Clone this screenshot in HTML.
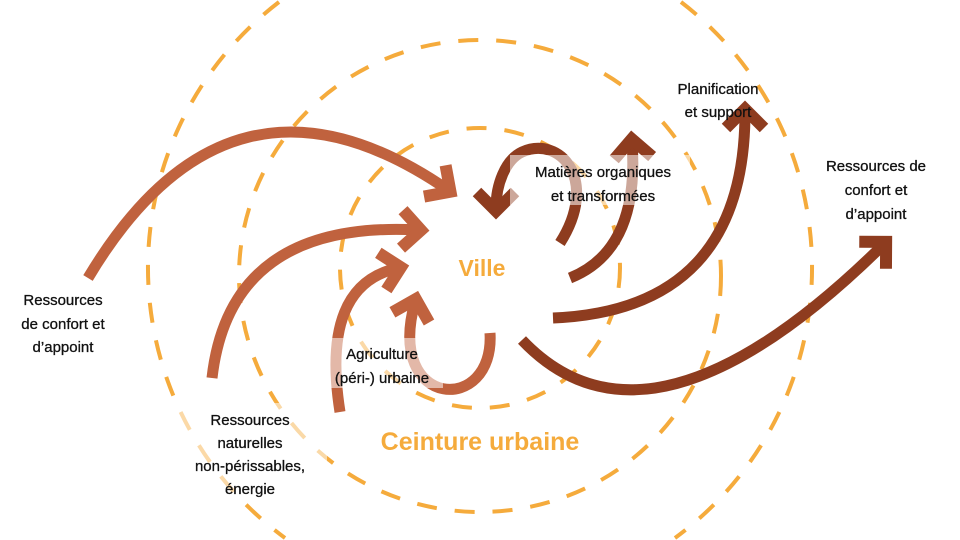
<!DOCTYPE html>
<html><head><meta charset="utf-8"><style>
html,body{margin:0;padding:0;background:#fff;overflow:hidden;width:960px;height:540px;}
svg{display:block;overflow:hidden;}
text{font-family:"Liberation Sans","DejaVu Sans",sans-serif;}
.l{font-size:15px;fill:#111;text-anchor:middle;stroke:#111;stroke-width:0.3;}
</style></head><body>
<svg width="960" height="540" viewBox="0 0 960 540" xmlns="http://www.w3.org/2000/svg">
<defs>
<marker id="ha" markerUnits="userSpaceOnUse" markerWidth="60" markerHeight="60" refX="0" refY="0" viewBox="-30 -30 60 60" orient="auto">
<path d="M-16,-19 L3,0 L-16,19" fill="none" stroke="#c0623e" stroke-width="12" stroke-linejoin="miter"/>
</marker>
<marker id="hb" markerUnits="userSpaceOnUse" markerWidth="60" markerHeight="60" refX="0" refY="0" viewBox="-30 -30 60 60" orient="auto">
<path d="M-16,-19 L3,0 L-16,19" fill="none" stroke="#8e3c1f" stroke-width="12" stroke-linejoin="miter"/>
</marker>
</defs>
<g fill="none" stroke="#f5ab3c" stroke-width="4" stroke-dasharray="20 18">
<circle cx="480" cy="268" r="140"/>
<ellipse cx="480" cy="276" rx="241" ry="236"/>
<path d="M279,2 A335,335 0 0 0 285,538"/>
<path d="M681,2 A335,335 0 0 1 675,538"/>
</g>
<g fill="none" stroke="#c0623e" stroke-width="11">
<path d="M88,278 Q 230,40 448,190" marker-end="url(#ha)"/>
<path d="M212,378 Q 230,220 418,230" marker-end="url(#ha)"/>
<path d="M340,412 Q 320,285 398,268" marker-end="url(#ha)"/>
<path d="M490,333 C 495,415 385,410 415,302" marker-end="url(#ha)"/>
</g>
<g fill="none" stroke="#8e3c1f" stroke-width="11">
<path d="M560,243 C 600,180 560,135 522,152 C 505,160 496,185 496,208" marker-end="url(#hb)"/>
<path d="M570,278 Q 640,250 632,142" marker-end="url(#hb)"/>
<path d="M553,318 Q 745,310 745,112" marker-end="url(#hb)"/>
<path d="M522,340 Q 650,475 884,244" marker-end="url(#hb)"/>
</g>
<g fill="#fff" opacity="0.55">
<rect x="510" y="155" width="180" height="50"/>
<rect x="325" y="338" width="118" height="50"/>
<rect x="172" y="403" width="155" height="97"/>
</g>
<g>
<text class="l" x="63" y="305">Ressources</text>
<text class="l" x="63" y="329">de confort et</text>
<text class="l" x="63" y="352">d’appoint</text>
<text class="l" x="250" y="425">Ressources</text>
<text class="l" x="250" y="448">naturelles</text>
<text class="l" x="250" y="471">non-périssables,</text>
<text class="l" x="250" y="494">énergie</text>
<text class="l" x="382" y="359">Agriculture</text>
<text class="l" x="382" y="383">(péri-) urbaine</text>
<text class="l" x="603" y="177">Matières organiques</text>
<text class="l" x="603" y="201">et transformées</text>
<text class="l" x="718" y="94">Planification</text>
<text class="l" x="718" y="117">et support</text>
<text class="l" x="876" y="171">Ressources de</text>
<text class="l" x="876" y="195">confort et</text>
<text class="l" x="876" y="219">d’appoint</text>
</g>
<text x="482" y="276" text-anchor="middle" font-size="23" font-weight="bold" fill="#f5ab3c">Ville</text>
<text x="480" y="450" text-anchor="middle" font-size="25" font-weight="bold" fill="#f5ab3c">Ceinture urbaine</text>
</svg>
</body></html>
